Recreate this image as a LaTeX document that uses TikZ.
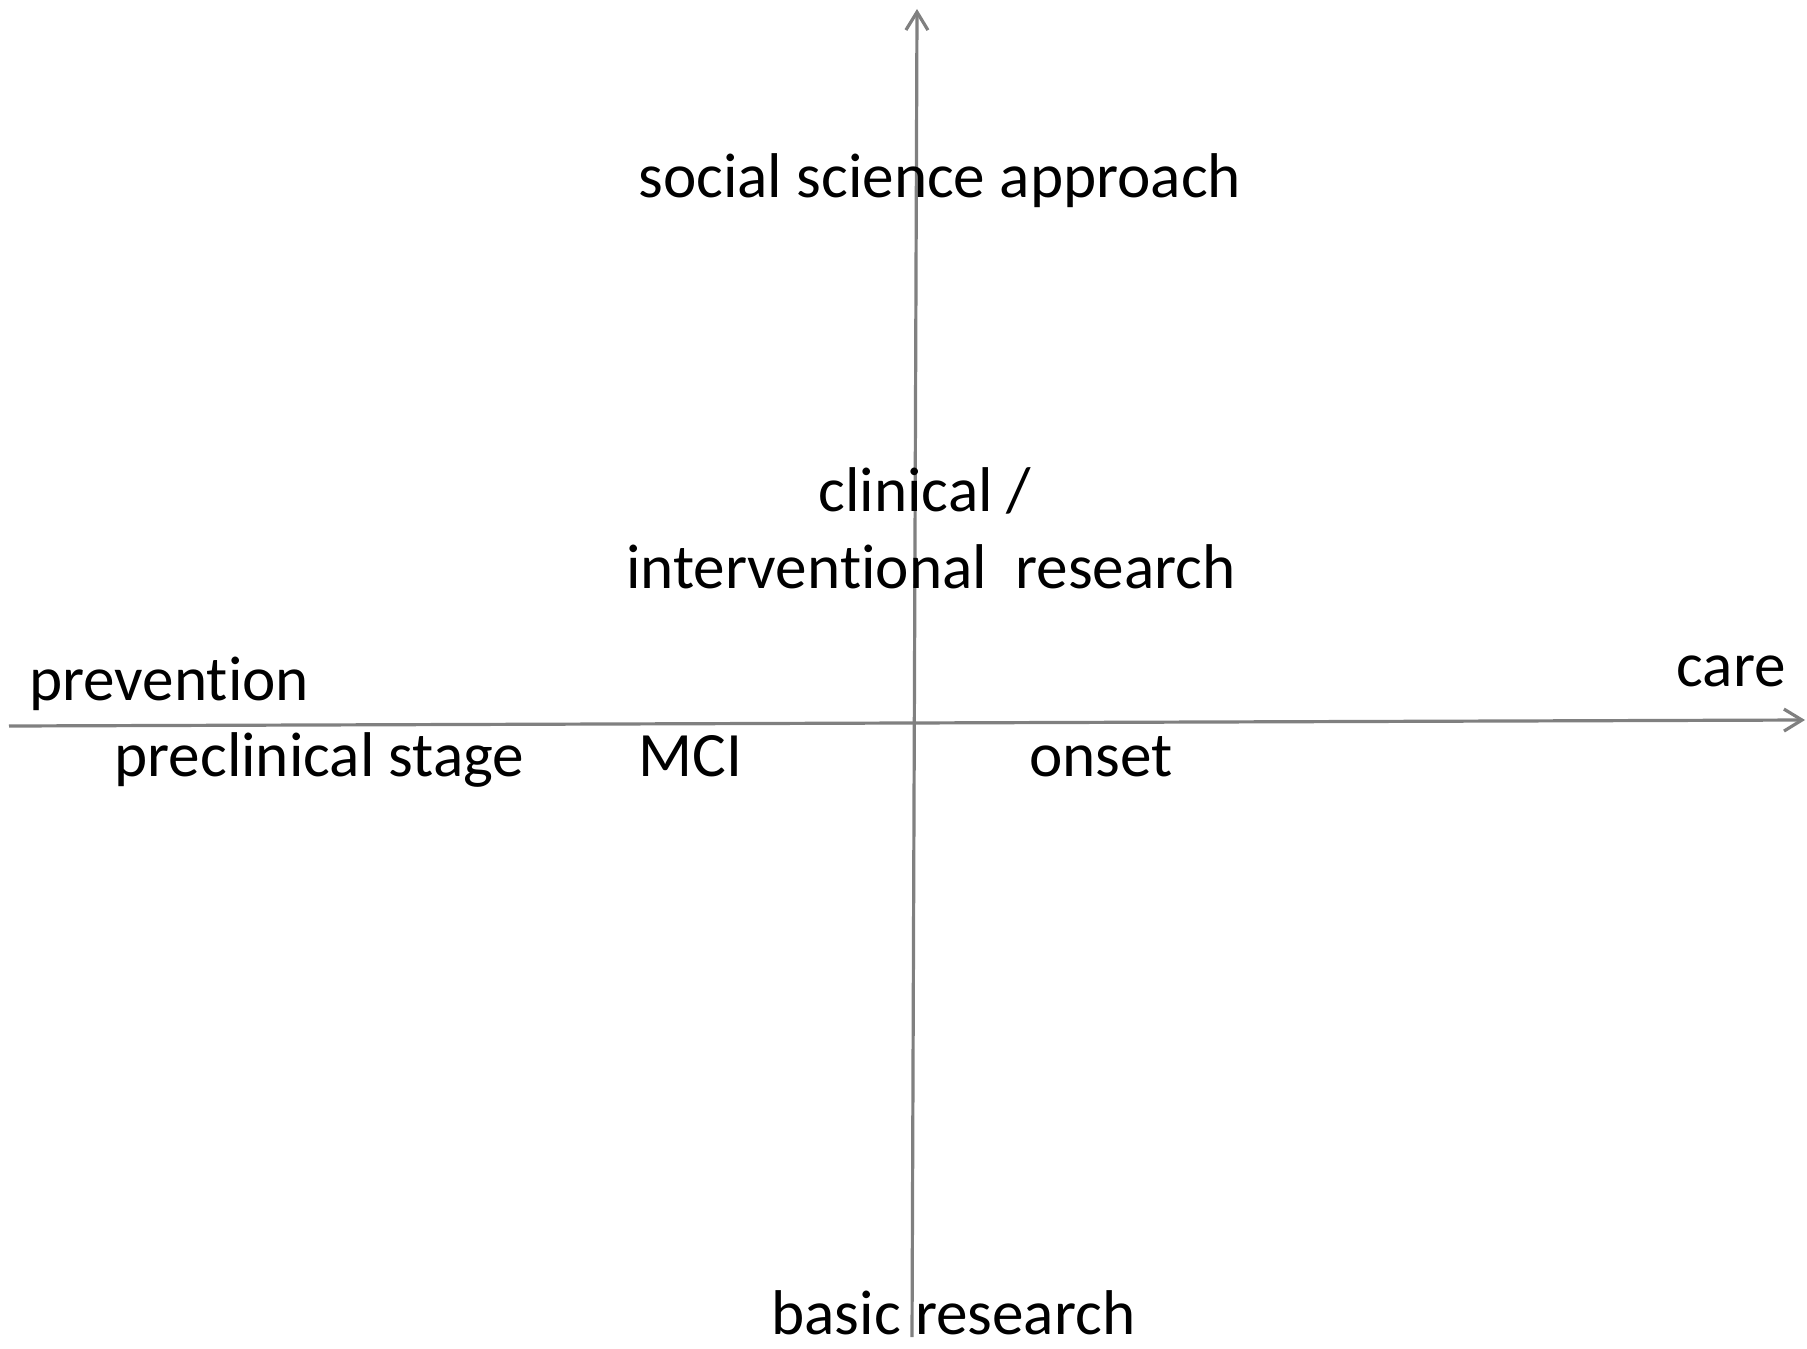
\documentclass[tikz,border=0pt]{standalone}
\usepackage{fontspec}
\setmainfont[Ligatures={NoCommon}]{Carlito}
\usetikzlibrary{arrows.meta}
\begin{document}
\begin{tikzpicture}[x=0.5pt,y=-0.5pt,
  axis/.style={draw=black!50, line width=1.6pt,
    -{Straight Barb[length=9pt,width=11pt,line width=1.6pt]}},
  lbl/.style={font=\fontsize{31.6}{38}\selectfont, inner sep=0pt, anchor=base west, text=black}]
\useasboundingbox (0,0) rectangle (1807,1348);
% axis end points
\coordinate (xl) at (9,726);
\coordinate (xr) at (1805,720);
\coordinate (yb) at (912,1337);
\coordinate (yt) at (917,9);
\draw[axis] (xl) -- (xr);
\draw[axis] (yb) -- (yt);
% labels
\node[lbl] (social) at (638,198) {social science approach};
\node[lbl, anchor=base] (clin) at (925,511) {clinical /};
\node[lbl, anchor=base] (interv) at (931,588) {interventional\ \ research};
\node[lbl] (prev) at (29,700) {prevention};
\node[lbl, anchor=base east] (care) at (1786,686) {care};
\node[lbl] (precl) at (114,776) {preclinical stage};
\node[lbl] (mci) at (638,776) {MCI};
\node[lbl] (onset) at (1029,776) {onset};
\node[lbl] (basic) at (771,1334) {basic research};
\end{tikzpicture}
\end{document}
